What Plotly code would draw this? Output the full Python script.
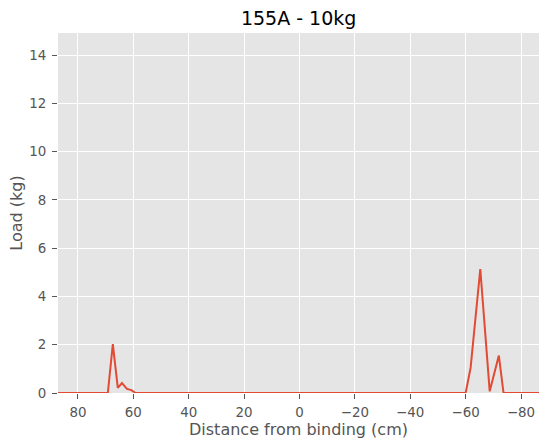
import plotly.graph_objects as go

# Load profile along the ski, measured from the binding (positive = tip side)
distance_cm = [90.0, 69.2, 67.4, 65.6, 64.1, 62.3, 60.7, 59.2,
               -60.0, -61.8, -65.3, -68.7, -72.0, -73.7, -90.0]
load_kg = [0.0, 0.0, 2.03, 0.21, 0.41, 0.17, 0.12, 0.0,
           0.0, 1.04, 5.14, 0.07, 1.55, 0.0, 0.0]

x_ticks = [80, 60, 40, 20, 0, -20, -40, -60, -80]
x_tick_text = ["80", "60", "40", "20", "0", "\u221220", "\u221240", "\u221260", "\u221280"]
y_ticks = [0, 2, 4, 6, 8, 10, 12, 14]

title_text = "155A - 10kg"
x_label = "Distance from binding (cm)"
y_label = "Load (kg)"

FONT = "DejaVu Sans"
TICK_COLOR = "#555555"

fig = go.Figure(
    go.Scatter(
        x=distance_cm,
        y=load_kg,
        mode="lines",
        line=dict(color="#E24A33", width=2),
        hoverinfo="skip",
    )
)

axis_common = dict(
    showgrid=True,
    gridcolor="white",
    gridwidth=1,
    zeroline=False,
    showline=False,
    ticks="outside",
    ticklen=5,
    tickwidth=1,
    tickcolor=TICK_COLOR,
    tickfont=dict(family=FONT, size=13.4, color=TICK_COLOR),
    title_font=dict(family=FONT, size=16, color=TICK_COLOR),
)

fig.update_layout(
    width=539,
    height=442,
    margin=dict(l=58, r=0, t=33, b=49),
    paper_bgcolor="white",
    plot_bgcolor="#E5E5E5",
    showlegend=False,
    title=dict(
        text=title_text,
        font=dict(family=FONT, size=19, color="black"),
        x=0.554,
        xanchor="center",
        xref="container",
        y=1 - 18 / 442,
        yanchor="middle",
        yref="container",
    ),
    xaxis=dict(
        range=[87.2, -86.5],
        tickvals=x_ticks,
        ticktext=x_tick_text,
        title=dict(text=x_label, standoff=4),
        ticklabelstandoff=2,
        **axis_common,
    ),
    yaxis=dict(
        range=[0, 14.92],
        tickvals=y_ticks,
        title=dict(text=y_label, standoff=2),
        ticklabelstandoff=3,
        **axis_common,
    ),
)

fig.write_html("out.html")
